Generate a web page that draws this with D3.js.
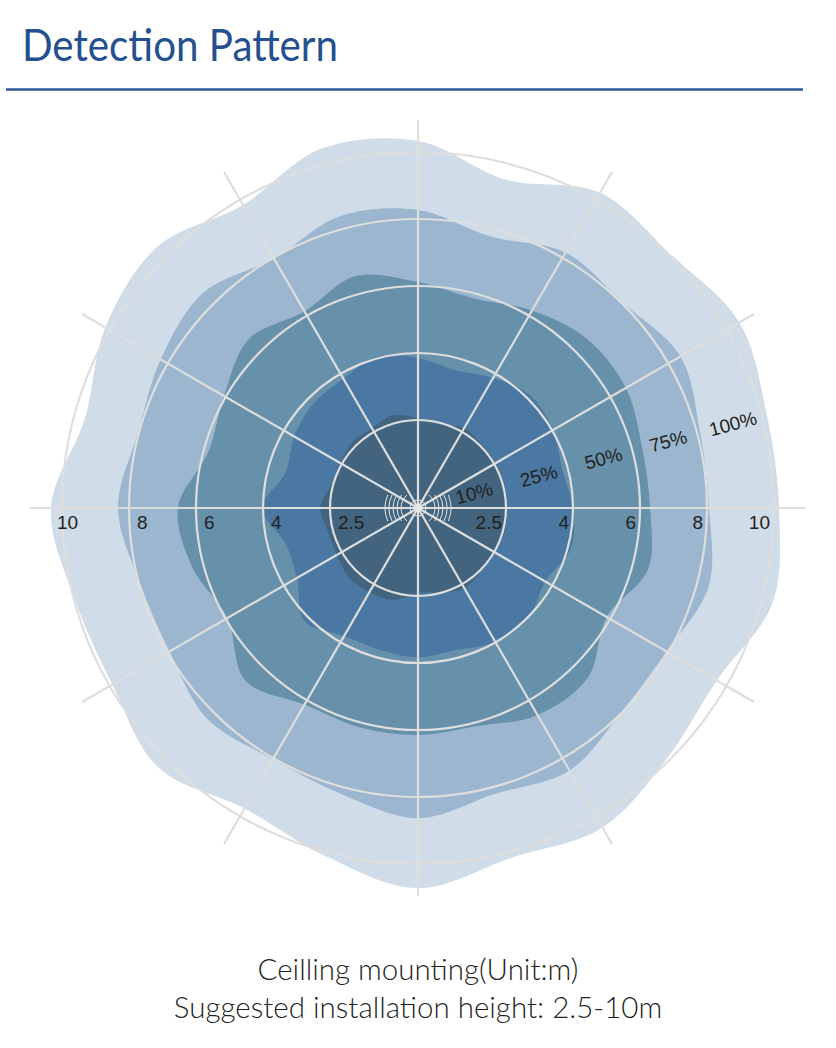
<!DOCTYPE html>
<html>
<head>
<meta charset="utf-8">
<script src="https://cdn.jsdelivr.net/npm/d3@7"></script>
<style>
	body { margin: 0; background: #fff; }
	svg { display: block; }
</style>
</head>
<body>
<svg id="chart" width="836" height="1048"></svg>
<script>
// detection range (m) read every 15 degrees, clockwise from the top
const angles = [0, 15, 30, 45, 60, 75, 90, 105, 120, 135, 150, 165,
	180, 195, 210, 225, 240, 255, 270, 285, 300, 315, 330, 345];

const zone100 = [10.33, 9.52, 10.24, 10.06, 10.45, 10.15, 10.15, 10.33, 9.67, 9.91, 10.39, 10.18,
	10.72, 10.12, 9.73, 10.33, 9.91, 9.97, 10.33, 9.67, 10.15, 10.39, 9.82, 10.48];
const zone75 = [8.27, 7.76, 8.18, 8.03, 8.42, 8.09, 8.06, 8.36, 7.94, 7.97, 8.42, 8.21,
	8.63, 8.21, 8.03, 8.27, 7.94, 7.97, 8.33, 8.03, 8.24, 8.45, 7.97, 8.39];
const zone50 = [6.12, 5.85, 6.18, 6.51, 6.54, 6.30, 6.30, 6.48, 5.88, 6.54, 6.51, 6.12,
	6.15, 6.15, 6.15, 6.66, 5.94, 6.33, 6.54, 5.85, 6.06, 6.51, 6.15, 6.54];
const zone25 = [3.89, 3.73, 3.89, 4.12, 4.03, 3.87, 4.00, 4.09, 3.82, 4.03, 4.00, 3.82,
	3.87, 3.82, 3.84, 4.15, 3.66, 3.60, 4.03, 3.60, 3.73, 3.84, 3.87, 4.06];
const zone10 = [2.54, 2.44, 2.59, 2.54, 2.54, 2.52, 2.52, 2.54, 2.47, 2.52, 2.61, 2.47,
	2.41, 2.66, 2.70, 2.72, 2.63, 2.61, 2.72, 2.54, 2.54, 2.61, 2.59, 2.68];

const ringValues = [2.5, 4, 6, 8, 10];
const zoneLabels = ["10%", "25%", "50%", "75%", "100%"];
const spokeAngles = [0, 30, 60, 90, 120, 150, 180, 210, 240, 270, 300, 330];

const zoneColors = ["#d0dce7", "#9bb6ce", "#6791ab", "#4a78a2", "#42647e"];

const cx = 418, cy = 508,
	firstRing = 88, ringGap = 67, spokeLen = 388;

const svg = d3.select("#chart");

// rings are evenly spaced, so the radius scale is piecewise linear
const rScale = d3.scaleLinear()
	.domain([0].concat(ringValues))
	.range([0].concat(ringValues.map((d, i) => firstRing + i * ringGap)));

const rad = (a) => a * Math.PI / 180;

// title
svg.append("text")
	.attr("x", 22)
	.attr("y", 61)
	.attr("textLength", 316)
	.attr("lengthAdjust", "spacingAndGlyphs")
	.style("font-family", "Lato, 'Noto Sans', sans-serif")
	.style("font-size", "44px")
	.style("fill", "#24508f")
	.text("Detection Pattern");

svg.append("line")
	.attr("x1", 6).attr("x2", 803)
	.attr("y1", 89.5).attr("y2", 89.5)
	.style("stroke", "#2d5a96")
	.style("stroke-width", 2.5);

const g = svg.append("g")
	.attr("transform", "translate(" + cx + "," + cy + ")");

// zones, largest first
const zones = [zone100, zone75, zone50, zone25, zone10];

const radial = d3.lineRadial()
	.angle((d) => rad(d.angle))
	.radius((d) => rScale(d.value))
	.curve(d3.curveCatmullRomClosed.alpha(0.5));

g.selectAll("path.zone")
	.data(zones)
	.enter().append("path")
	.attr("class", "zone")
	.attr("d", (vals) => radial(angles.map((a, i) => ({angle: a, value: vals[i]}))))
	.style("fill", (d, i) => zoneColors[i]);

// grid
g.selectAll("circle.ring")
	.data(ringValues)
	.enter().append("circle")
	.attr("class", "ring")
	.attr("r", (d) => rScale(d))
	.style("fill", "none")
	.style("stroke", "#dedede")
	.style("stroke-width", 2.2);

g.selectAll("line.spoke")
	.data(spokeAngles)
	.enter().append("line")
	.attr("class", "spoke")
	.attr("x1", 0).attr("y1", 0)
	.attr("x2", (d) => spokeLen * Math.sin(rad(d)))
	.attr("y2", (d) => -spokeLen * Math.cos(rad(d)))
	.style("stroke", "#dedede")
	.style("stroke-width", 2.2);

// sensor symbol in the middle
const waves = [17, 21, 25, 29, 33];
[90, 270].forEach((side) => {
	waves.forEach((w) => {
		const half = Math.asin(Math.min(1, 13 / w));
		const p = d3.path();
		const a0 = rad(side - 90) - half, a1 = rad(side - 90) + half;
		p.arc(0, 0, w, a0, a1);
		g.append("path")
			.attr("d", p.toString())
			.style("fill", "none")
			.style("stroke", "#e6e6e6")
			.style("stroke-width", 1);
	});
});
g.append("circle")
	.attr("r", 8)
	.style("fill", "none")
	.style("stroke", "#e6e6e6")
	.style("stroke-width", 1);
g.append("circle")
	.attr("r", 4)
	.style("fill", "#e6e6e6");

// distance labels on the horizontal axis
const tickFont = "'Liberation Sans', Arial, sans-serif";
const lastRing = ringValues.length - 1;
g.selectAll("text.tickR")
	.data(ringValues)
	.enter().append("text")
	.attr("class", "tickR")
	.attr("x", (d) => rScale(d) - 4)
	.attr("y", 21)
	.attr("text-anchor", "end")
	.style("font-family", tickFont)
	.style("font-size", "19px")
	.style("fill", "#231f20")
	.text((d) => d);

g.selectAll("text.tickL")
	.data(ringValues)
	.enter().append("text")
	.attr("class", "tickL")
	.attr("x", (d, i) => i === lastRing ? -rScale(d) - 5 : -rScale(d) + 8)
	.attr("y", 21)
	.attr("text-anchor", "start")
	.style("font-family", tickFont)
	.style("font-size", "19px")
	.style("fill", "#231f20")
	.text((d) => d);

// zone labels along the 75 degree ray
const labelAngle = 75;
g.selectAll("text.zoneLabel")
	.data(ringValues)
	.enter().append("text")
	.attr("class", "zoneLabel")
	.attr("transform", (d) => {
		const r = rScale(d) - 30;
		return "translate(" + (r * Math.sin(rad(labelAngle))) + "," + (-r * Math.cos(rad(labelAngle))) + ") rotate(-15)";
	})
	.attr("text-anchor", "middle")
	.attr("dy", "0.36em")
	.style("font-family", tickFont)
	.style("font-size", "19px")
	.style("fill", "#231f20")
	.text((d, i) => zoneLabels[i]);

// footer
const footFont = "Lato, 'Noto Sans', sans-serif";
svg.append("text")
	.attr("x", cx)
	.attr("y", 980)
	.attr("text-anchor", "middle")
	.style("font-family", footFont)
	.style("font-weight", 300)
	.style("font-size", "29.5px")
	.style("fill", "#231f20")
	.text("Ceilling mounting(Unit:m)");

svg.append("text")
	.attr("x", cx)
	.attr("y", 1018)
	.attr("text-anchor", "middle")
	.style("font-family", footFont)
	.style("font-weight", 300)
	.style("font-size", "29.5px")
	.style("fill", "#231f20")
	.text("Suggested installation height: 2.5-10m");
</script>
</body>
</html>
